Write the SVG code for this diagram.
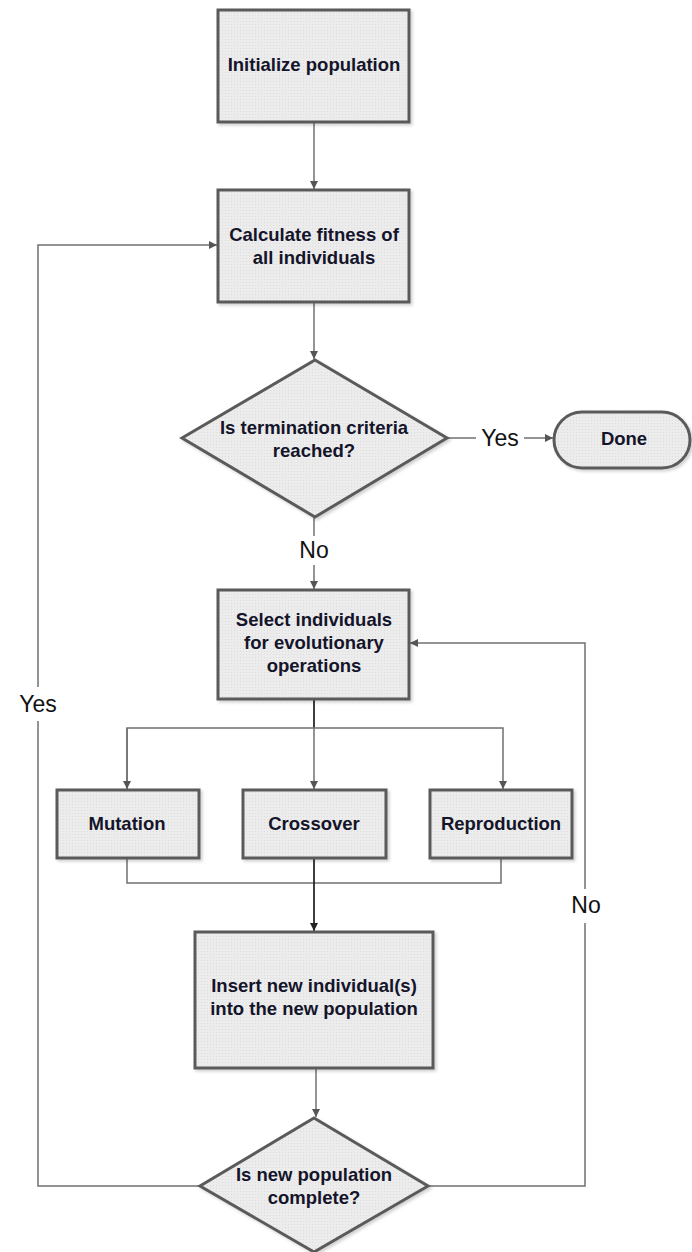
<svg xmlns="http://www.w3.org/2000/svg" width="692" height="1252" viewBox="0 0 692 1252">
  <defs>
    <pattern id="dots" width="3" height="3" patternUnits="userSpaceOnUse">
      <rect width="3" height="3" fill="#ececec"/>
      <rect width="1" height="1" fill="#dcdcdc"/>
    </pattern>
    <marker id="arrow" viewBox="0 0 10 10" refX="10" refY="5" markerWidth="8" markerHeight="8" markerUnits="userSpaceOnUse" orient="auto">
      <path d="M0,0 L10,5 L0,10 z" fill="#555"/>
    </marker>
    <marker id="arrowDark" viewBox="0 0 10 10" refX="10" refY="5" markerWidth="8" markerHeight="8" markerUnits="userSpaceOnUse" orient="auto">
      <path d="M0,0 L10,5 L0,10 z" fill="#222"/>
    </marker>
    <filter id="shadow" x="-10%" y="-10%" width="120%" height="120%">
      <feDropShadow dx="2" dy="2" stdDeviation="1.5" flood-color="#000" flood-opacity="0.18"/>
    </filter>
  </defs>
  <style>
    .shape { fill: url(#dots); stroke: #5a5a5a; stroke-width: 3; filter: url(#shadow); }
    .label { font-family: "Liberation Sans", Arial, sans-serif; font-weight: bold; font-size: 18.5px; fill: #14142a; text-anchor: middle; }
    .edge-label { font-family: "Liberation Sans", Arial, sans-serif; font-size: 23px; fill: #111; text-anchor: middle; }
    .conn { fill: none; stroke: #707070; stroke-width: 1.5; }
    .conn-dark { fill: none; stroke: #2a2a2a; stroke-width: 1.8; }
  </style>

  <rect width="692" height="1252" fill="#fff"/>

  <!-- connectors -->
  <g id="connectors">
    <path class="conn" d="M314,122 V189" marker-end="url(#arrow)"/>
    <path class="conn" d="M314,302 V359" marker-end="url(#arrow)"/>
    <path class="conn" d="M447,438 H476"/>
    <path class="conn" d="M524,438 H553" marker-end="url(#arrow)"/>
    <path class="conn" d="M314,517 V536"/>
    <path class="conn" d="M314,565 V589" marker-end="url(#arrow)"/>
    <path class="conn-dark" d="M314,699 V728"/>
    <path class="conn" d="M127,789 V728 H503 V789" marker-end="url(#arrow)"/>
    <path class="conn" d="M127,728 V789" marker-end="url(#arrow)"/>
    <path class="conn" d="M314,728 V789" marker-end="url(#arrow)"/>
    <path class="conn" d="M127,858 V883 H501 V858"/>
    <path class="conn-dark" d="M314,858 V931" marker-end="url(#arrowDark)"/>
    <path class="conn" d="M316,1068 V1117" marker-end="url(#arrow)"/>
    <path class="conn" d="M200,1186 H38 V721"/>
    <path class="conn" d="M38,687 V245 H217" marker-end="url(#arrow)"/>
    <path class="conn" d="M428,1186 H585 V923"/>
    <path class="conn" d="M585,889 V643 H410" marker-end="url(#arrow)"/>
    <text class="edge-label" x="500" y="446">Yes</text>
    <text class="edge-label" x="314" y="558">No</text>
    <text class="edge-label" x="38" y="712">Yes</text>
    <text class="edge-label" x="586" y="913">No</text>
  </g>

  <g id="init">
    <rect class="shape" x="218" y="10" width="191" height="112"/>
    <text class="label" x="314" y="71">Initialize population</text>
  </g>

  <g id="fitness">
    <rect class="shape" x="218" y="190" width="191" height="112"/>
    <text class="label" x="314" y="241">Calculate fitness of</text>
    <text class="label" x="314" y="264">all individuals</text>
  </g>

  <g id="termination">
    <polygon class="shape" points="315,360 447,438 315,517 182,438"/>
    <text class="label" x="314" y="434">Is termination criteria</text>
    <text class="label" x="314" y="457">reached?</text>
  </g>

  <g id="done">
    <rect class="shape" x="554" y="412" width="136" height="56" rx="28" ry="28"/>
    <text class="label" x="624" y="445">Done</text>
  </g>

  <g id="select">
    <rect class="shape" x="218" y="590" width="191" height="109"/>
    <text class="label" x="314" y="626">Select individuals</text>
    <text class="label" x="314" y="649">for evolutionary</text>
    <text class="label" x="314" y="672">operations</text>
  </g>

  <g id="mutation">
    <rect class="shape" x="57" y="790" width="142" height="68"/>
    <text class="label" x="127" y="830">Mutation</text>
  </g>

  <g id="crossover">
    <rect class="shape" x="243" y="790" width="143" height="68"/>
    <text class="label" x="314" y="830">Crossover</text>
  </g>

  <g id="reproduction">
    <rect class="shape" x="430" y="790" width="142" height="68"/>
    <text class="label" x="501" y="830">Reproduction</text>
  </g>

  <g id="insert">
    <rect class="shape" x="195" y="932" width="238" height="136"/>
    <text class="label" x="314" y="992">Insert new individual(s)</text>
    <text class="label" x="314" y="1015">into the new population</text>
  </g>

  <g id="complete">
    <polygon class="shape" points="314,1118 428,1186 314,1252 200,1186"/>
    <text class="label" x="314" y="1181">Is new population</text>
    <text class="label" x="314" y="1204">complete?</text>
  </g>
</svg>
